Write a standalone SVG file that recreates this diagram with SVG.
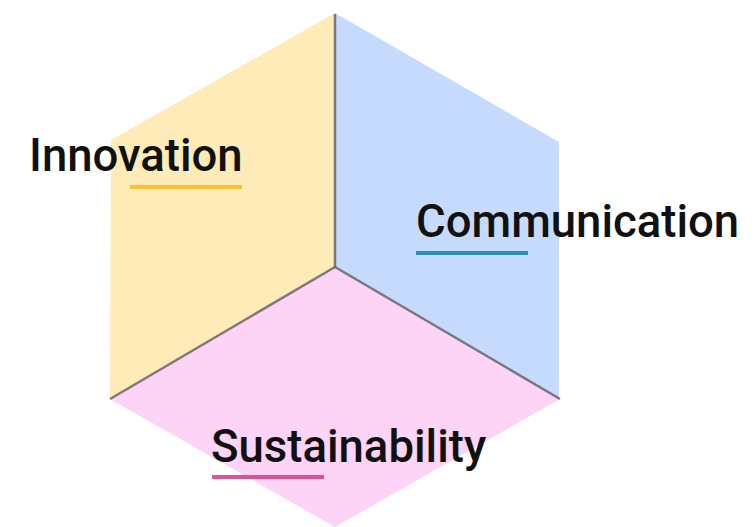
<svg xmlns="http://www.w3.org/2000/svg" width="756" height="527" viewBox="0 0 756 527">
<style>
.lbl{font-family:Roboto,"Liberation Sans",sans-serif;font-size:45.5px;font-weight:500;fill:#111;}
.edge{stroke:#555;stroke-width:2.5;stroke-opacity:0.75;fill:none;}
.ul{stroke-width:4;}
</style>
<rect width="756" height="527" fill="#ffffff"/>
<g id="innovation">
<polygon points="335,13 111,140 110,399 335,267" fill="#FEEBB8"/>
<text class="lbl" x="29" y="171">Innovation</text>
<line class="ul" x1="130" y1="187" x2="242" y2="187" stroke="#FBC02D"/>
</g>
<g id="communication">
<polygon points="335,13 559,142 559,399 335,267" fill="#C6DAFD"/>
<text class="lbl" x="416" y="237">Communication</text>
<line class="ul" x1="416" y1="253" x2="528" y2="253" stroke="#2A8EB5"/>
</g>
<g id="sustainability">
<polygon points="335,267 560,399 335,527 110,399" fill="#FDD3F6"/>
<text class="lbl" x="211" y="462">Sustainability</text>
<line class="ul" x1="212" y1="477" x2="324" y2="477" stroke="#E0509A"/>
</g>
<g id="connectors">
<line class="edge" x1="335" y1="14" x2="335" y2="267"/>
<line class="edge" x1="335" y1="267" x2="110" y2="399"/>
<line class="edge" x1="335" y1="267" x2="560" y2="399"/>
</g>
</svg>
